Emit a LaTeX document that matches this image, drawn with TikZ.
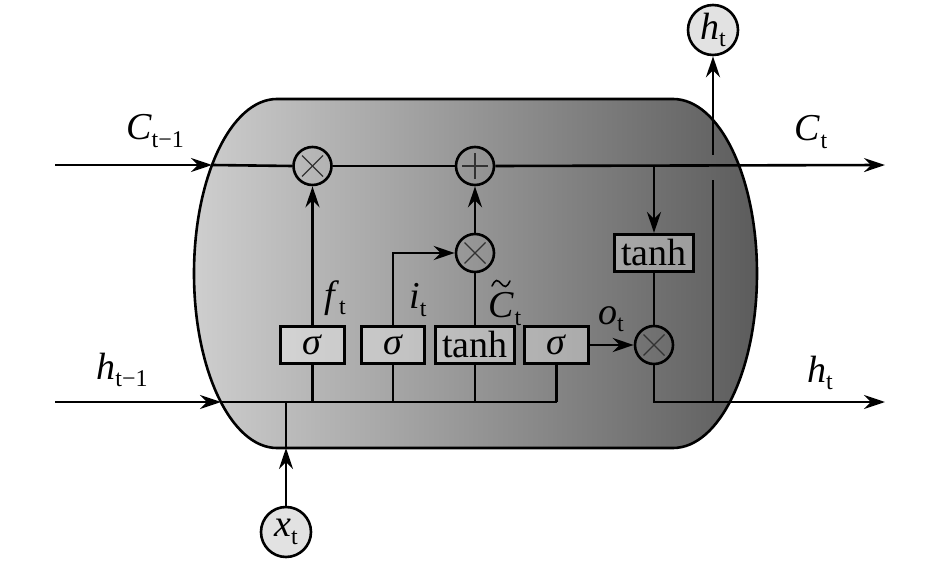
\documentclass[tikz,border=0pt]{standalone}
\usepackage{fontspec}
\newfontfamily\lserif{Liberation Serif}
\usetikzlibrary{arrows.meta}
\definecolor{bodyL}{RGB}{206,206,206}
\definecolor{bodyR}{RGB}{92,92,92}
\definecolor{circfill}{RGB}{226,226,226}
\definecolor{symcol}{RGB}{50,50,50}
\newcommand\lbl[2]{\textit{#1}\raisebox{-0.2em}{\fontsize{24}{24}\selectfont\upshape #2}}
\begin{document}
\begin{tikzpicture}[x=1pt,y=-1pt,line width=2.6pt,
  >={Stealth[length=21pt,width=14pt,inset=7pt]},
  font=\lserif\fontsize{38}{42}\selectfont,
  op/.style={circle,draw,minimum size=38pt,inner sep=0pt},
  io/.style={circle,draw,fill=circfill,minimum size=50pt,inner sep=0pt},
  gate/.style={draw,fill=white,fill opacity=0.35,text opacity=1,minimum height=37.5pt,inner sep=0pt},
  lab/.style={inner sep=0pt},
  symline/.style={draw=symcol,line width=1.3pt}]
\useasboundingbox (0,0) rectangle (945,561);
% body
\shadedraw[left color=bodyL,right color=bodyR,draw=black,line width=2.6pt]
  (277,99) -- (673,99) arc[start angle=-90,end angle=90,x radius=84,y radius=174.5]
  -- (277,448) arc[start angle=90,end angle=270,x radius=83,y radius=174.5] -- cycle;
% operators
\node[op] (fx) at (312.5,166) {};
\node[op] (plus) at (475,166) {};
\node[op] (ix) at (475,253) {};
\node[op] (ox) at (654,345) {};
\foreach \n in {fx,ix,ox}{
  \draw[symline] ([shift={(-10.5,-10.5)}]\n.center) -- ([shift={(10.5,10.5)}]\n.center);
  \draw[symline] ([shift={(-10.5,10.5)}]\n.center) -- ([shift={(10.5,-10.5)}]\n.center);
}
\draw[symline] ([xshift=-13]plus.center) -- ([xshift=13]plus.center);
\draw[symline] ([yshift=-13]plus.center) -- ([yshift=13]plus.center);
% gates
\node[gate,minimum width=64.5pt] (s1) at (312.5,345) {\textit{σ}};
\node[gate,minimum width=63.5pt] (s2) at (393,345) {\textit{σ}};
\node[gate,minimum width=79.5pt] (s3) at (475,345) {tanh};
\node[gate,minimum width=64.5pt] (s4) at (556.5,345) {\textit{σ}};
\node[gate,minimum width=79.5pt] (tr) at (654,253) {tanh};
% io circles
\node[io] (hout) at (713,30) {\lbl{h}{t}};
\node[io] (xin) at (286,532) {\lbl{x}{t}};
% coordinates
\coordinate (cin) at (55,165);
\coordinate (cedge) at (212,165);
\coordinate (ctap) at (654,165);
\coordinate (cout) at (885,165);
\coordinate (hin) at (55,402);
\coordinate (hedge) at (221,402);
\coordinate (hjoin) at (286,402);
\coordinate (hbus) at (556.5,402);
\coordinate (xedge) at (286,448);
\coordinate (hend) at (885,402);
\coordinate (hup) at (713,402);
\coordinate (gaplo) at (713,180);
\coordinate (gaphi) at (713,155);
% cell state line
\draw[->] (cin) -- (cedge);
\draw (cedge) -- (fx.west);
\draw (fx.east) -- (plus.west);
\draw[->] (plus.east) -- (cout);
\draw[->] (ctap) -- (tr.north);
\draw (tr.south) -- (ox.north);
% gates to operators
\draw[->] (s1.north) -- (fx.south);
\draw[->] (s2.north) |- (ix.west);
\draw (s3.north) -- (ix.south);
\draw[->] (ix.north) -- (plus.south);
\draw[->] (s4.east) -- (ox.west);
% hidden input bus
\draw[->] (hin) -- (hedge);
\draw (hedge) -- (hbus);
\draw[->] (xin.north) -- (xedge);
\draw (xedge) -- (hjoin);
\foreach \n in {s1,s2,s3,s4} \draw (\n.south) -- (\n.south |- hbus);
% output
\draw[->] (ox.south) |- (hend);
\draw (hup) -- (gaplo);
\draw[->] (gaphi) -- (hout.south);
% labels
\node[lab] (lc0) at (155,131) {\lbl{C}{t−1}};
\node[lab] (lh0) at (122,370) {\lbl{h}{t−1}};
\node[lab] (lc1) at (811,132) {\lbl{C}{t}};
\node[lab] (lh1) at (820,373) {\lbl{h}{t}};
\node[lab] (lf) at (335,298) {\lbl{f}{t}};
\node[lab] (li) at (418,300) {\lbl{i}{t}};
\node[lab] (lct) at (505,309) {\lbl{C}{t}};
\node[lab] (lo) at (611,319) {\lbl{o}{t}};
% tilde over C
\draw[line width=1.6pt,line cap=round] (492,286) sin (496.5,280.5) cos (501,283.5) sin (505.5,286.5) cos (510,281);
\end{tikzpicture}
\end{document}
